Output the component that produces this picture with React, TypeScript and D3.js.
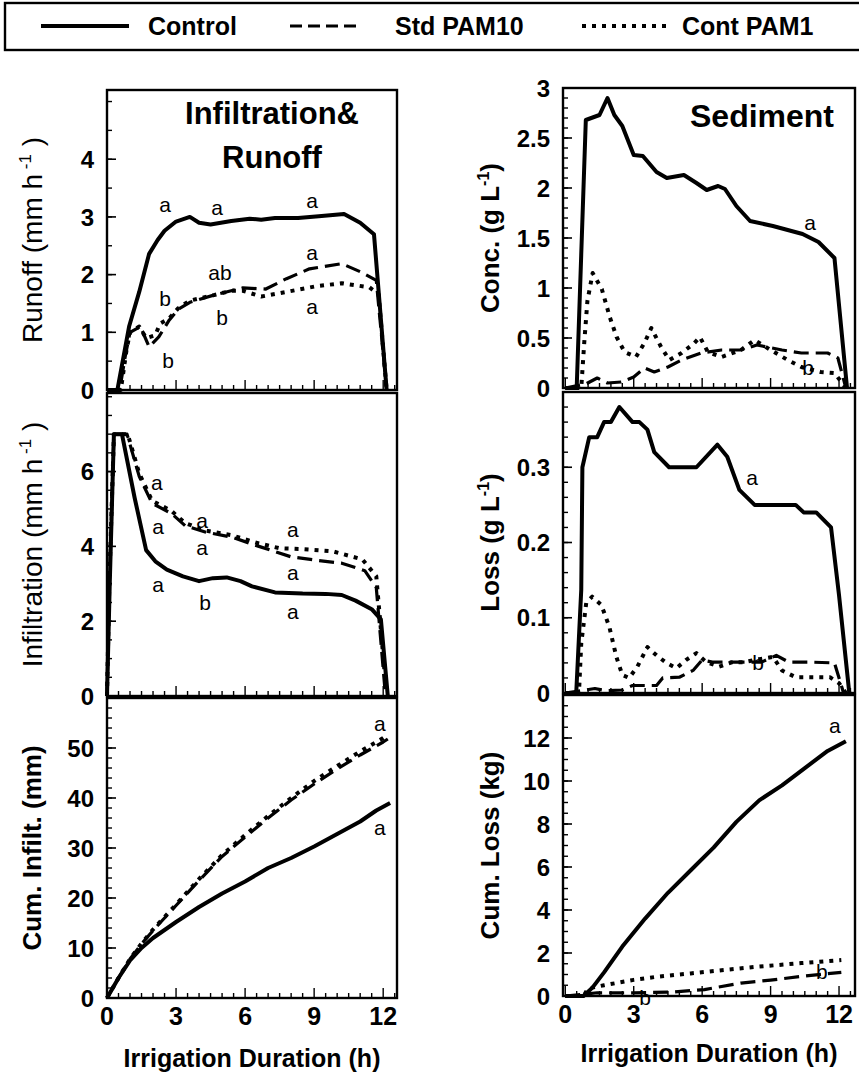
import React from 'react';
import * as d3 from 'd3';

type Pt = [number, number];
type Note = [string, number, number];

// ---- hours vs. value ----
const runoffControl: Pt[] = [[0, 0], [0.45, 0], [0.96, 1.1], [1.4, 1.7], [1.83, 2.36], [2.2, 2.6], [2.5, 2.76], [3.0, 2.92], [3.6, 3.0], [4.0, 2.9], [4.5, 2.87], [5.4, 2.93], [6.2, 2.97], [6.7, 2.95], [7.3, 2.98], [8.3, 2.98], [9.2, 3.01], [10.3, 3.05], [11.0, 2.9], [11.6, 2.7], [12.15, 0]];
const runoffStd: Pt[] = [[0, 0], [0.55, 0], [0.8, 0.6], [1.0, 1.0], [1.45, 1.1], [1.83, 0.75], [2.25, 0.92], [2.7, 1.21], [3.1, 1.4], [3.6, 1.52], [4.6, 1.64], [5.4, 1.72], [5.9, 1.77], [6.9, 1.75], [7.8, 1.93], [8.8, 2.1], [10.2, 2.19], [11.0, 2.05], [11.7, 1.9], [12.15, 0]];
const runoffCont: Pt[] = [[0, 0], [0.6, 0], [0.85, 0.7], [1.0, 1.0], [1.4, 1.1], [1.7, 0.9], [2.1, 0.95], [2.3, 1.15], [2.7, 1.24], [3.1, 1.42], [3.6, 1.55], [4.6, 1.64], [5.4, 1.72], [5.9, 1.72], [6.7, 1.62], [7.8, 1.7], [9.1, 1.8], [10.2, 1.85], [11.4, 1.78], [11.8, 1.66], [12.15, 0]];

const infilControl: Pt[] = [[0, 0], [0.12, 3.0], [0.3, 7.0], [0.65, 7.0], [1.2, 5.3], [1.7, 3.9], [2.1, 3.6], [2.6, 3.38], [3.3, 3.2], [4.0, 3.07], [4.6, 3.15], [5.2, 3.17], [5.8, 3.07], [6.3, 2.93], [7.3, 2.77], [8.5, 2.74], [9.5, 2.73], [10.2, 2.7], [10.8, 2.55], [11.5, 2.32], [11.9, 2.05], [12.2, 0]];
const infilStd: Pt[] = [[0, 0], [0.1, 3.0], [0.3, 7.0], [0.87, 7.0], [1.4, 5.87], [1.96, 5.15], [2.8, 4.88], [3.4, 4.55], [4.3, 4.38], [5.4, 4.25], [6.6, 4.0], [8.0, 3.72], [9.2, 3.62], [10.2, 3.55], [11.2, 3.35], [11.7, 2.9], [12.1, 0]];
const infilCont: Pt[] = [[0, 0], [0.1, 3.0], [0.3, 7.0], [0.9, 7.0], [1.4, 5.95], [1.96, 5.22], [2.8, 4.95], [3.4, 4.62], [4.3, 4.42], [5.4, 4.3], [6.6, 4.08], [7.5, 3.95], [8.4, 3.93], [9.8, 3.87], [11.1, 3.65], [11.7, 3.2], [12.15, 0]];

const cumInfilControl: Pt[] = [[0, 0], [0.5, 4], [1, 7.5], [1.5, 10], [2, 12], [3, 15.2], [4, 18.2], [5, 20.9], [6, 23.3], [7, 26], [8, 28], [9, 30.3], [10, 32.8], [11, 35.3], [11.7, 37.5], [12.3, 39]];
const cumInfilStd: Pt[] = [[0, 0], [0.5, 4], [1, 7.8], [1.5, 10.8], [2, 13.5], [3, 18.5], [4, 23.5], [5, 28.3], [6, 32.2], [7, 36], [8, 39.6], [9, 42.8], [10, 45.8], [11, 48.6], [12, 51.2], [12.2, 51.8]];
const cumInfilCont: Pt[] = [[0, 0], [0.5, 4], [1, 7.8], [1.5, 10.9], [2, 13.7], [3, 18.7], [4, 23.8], [5, 28.6], [6, 32.6], [7, 36.4], [8, 40], [9, 43.4], [10, 46.4], [11, 49.3], [12, 52], [12.2, 52.6]];

const concControl: Pt[] = [[0, 0], [0.5, 0], [0.9, 2.68], [1.5, 2.73], [1.85, 2.9], [2.15, 2.73], [2.5, 2.62], [3.0, 2.33], [3.4, 2.32], [4.0, 2.16], [4.45, 2.1], [5.2, 2.13], [5.75, 2.05], [6.2, 1.98], [6.7, 2.02], [7.0, 1.99], [7.5, 1.82], [8.1, 1.67], [9.1, 1.62], [10.4, 1.54], [11.1, 1.46], [11.8, 1.3], [12.35, 0]];
const concStd: Pt[] = [[0, 0], [0.9, 0.04], [1.4, 0.1], [1.85, 0.05], [2.45, 0.06], [3.0, 0.11], [3.47, 0.2], [3.9, 0.16], [4.5, 0.21], [5.1, 0.28], [5.95, 0.35], [6.85, 0.38], [7.7, 0.38], [8.4, 0.43], [9.5, 0.38], [10.35, 0.35], [11.5, 0.35], [11.95, 0.3], [12.3, 0]];
const concCont: Pt[] = [[0, 0], [0.7, 0], [0.83, 0.45], [0.97, 0.87], [1.2, 1.15], [1.6, 0.99], [1.95, 0.71], [2.25, 0.51], [2.6, 0.36], [3.1, 0.31], [3.47, 0.45], [3.77, 0.6], [4.2, 0.41], [4.56, 0.28], [5.1, 0.35], [5.66, 0.45], [5.9, 0.51], [6.25, 0.36], [6.85, 0.31], [7.7, 0.38], [8.3, 0.48], [9.0, 0.38], [9.75, 0.28], [10.35, 0.21], [11.2, 0.16], [11.8, 0.15], [12.3, 0]];

const lossControl: Pt[] = [[0, 0], [0.48, 0], [0.7, 0.137], [0.75, 0.3], [1.05, 0.34], [1.4, 0.34], [1.7, 0.36], [2.0, 0.36], [2.37, 0.38], [2.95, 0.36], [3.25, 0.36], [3.6, 0.35], [3.9, 0.32], [4.55, 0.3], [5.75, 0.3], [6.67, 0.33], [7.1, 0.314], [7.63, 0.27], [8.3, 0.25], [10.1, 0.25], [10.45, 0.24], [11.0, 0.24], [11.65, 0.22], [12.0, 0.13], [12.45, 0]];
const lossStd: Pt[] = [[0, 0], [0.9, 0.004], [1.3, 0.006], [1.8, 0.003], [2.5, 0.004], [2.95, 0.01], [4.0, 0.01], [4.27, 0.02], [5.0, 0.021], [5.6, 0.03], [6.0, 0.044], [6.45, 0.041], [7.2, 0.041], [8.6, 0.041], [9.25, 0.05], [9.8, 0.041], [10.8, 0.041], [11.8, 0.04], [12.2, 0]];
const lossCont: Pt[] = [[0, 0], [0.6, 0], [0.7, 0.066], [0.92, 0.12], [1.18, 0.128], [1.58, 0.117], [1.93, 0.088], [2.24, 0.048], [2.5, 0.024], [2.8, 0.02], [3.16, 0.035], [3.6, 0.061], [4.0, 0.05], [4.43, 0.04], [4.87, 0.033], [5.3, 0.044], [5.75, 0.053], [6.18, 0.041], [6.75, 0.035], [7.33, 0.041], [7.85, 0.041], [8.5, 0.045], [9.1, 0.048], [9.5, 0.03], [10.1, 0.021], [11.6, 0.021], [12.0, 0.013], [12.3, 0]];

const cumLossControl: Pt[] = [[0, 0], [0.8, 0], [1.2, 0.4], [1.7, 1.1], [2.5, 2.3], [3.5, 3.6], [4.5, 4.8], [5.5, 5.85], [6.5, 6.9], [7.5, 8.1], [8.5, 9.1], [9.5, 9.8], [10.5, 10.6], [11.5, 11.4], [12.3, 11.85]];
const cumLossStd: Pt[] = [[0, 0], [1.4, 0.15], [3, 0.15], [4.65, 0.18], [6.1, 0.3], [7.7, 0.6], [9.0, 0.74], [10.5, 0.93], [12.1, 1.1]];
const cumLossCont: Pt[] = [[0, 0], [0.8, 0], [1.0, 0.35], [1.7, 0.5], [3, 0.75], [3.9, 0.88], [5.5, 1.05], [6.85, 1.2], [8.5, 1.37], [10.35, 1.53], [11.0, 1.58], [12.1, 1.67]];

// mean separation letters: [text, hour, value]
const runoffNotes: Note[] = [['a', 2.52, 3.21], ['a', 4.78, 3.17], ['a', 8.91, 3.29], ['a', 8.91, 2.39], ['ab', 4.91, 2.03], ['b', 2.52, 1.59], ['b', 5.0, 1.25], ['a', 8.91, 1.44], ['b', 2.65, 0.52]];
const infilNotes: Note[] = [['a', 2.17, 5.72], ['a', 2.22, 4.52], ['a', 4.13, 4.7], ['a', 4.13, 3.96], ['a', 8.08, 4.44], ['a', 8.08, 3.29], ['a', 2.22, 2.97], ['b', 4.26, 2.51], ['a', 8.08, 2.25]];
const cumInfilNotes: Note[] = [['a', 11.86, 55], ['a', 11.86, 34.2]];
const concNotes: Note[] = [['a', 10.73, 1.66], ['b', 10.64, 0.21]];
const lossNotes: Note[] = [['a', 8.19, 0.286], ['b', 8.45, 0.041]];
const cumLossNotes: Note[] = [['a', 11.82, 12.6], ['b', 11.25, 1.12], ['b', 3.5, -0.05]];

const runoffTicks = [0, 1, 2, 3, 4];
const infilTicks = [0, 2, 4, 6];
const cumInfilTicks = [0, 10, 20, 30, 40, 50];
const concTicks = [0, 0.5, 1, 1.5, 2, 2.5, 3];
const lossTicks = [0, 0.1, 0.2, 0.3];
const cumLossTicks = [0, 2, 4, 6, 8, 10, 12];
const hourTicks = [0, 3, 6, 9, 12];

const legendNames = ['Control', 'Std PAM10', 'Cont PAM1'];

const FONT = '"Liberation Sans", Arial, Helvetica, sans-serif';
const styles = [
  { width: 4, dash: undefined as string | undefined },
  { width: 3.2, dash: '15 7' },
  { width: 4, dash: '4 6' },
];

type PanelProps = {
  x: d3.ScaleLinear<number, number>;
  top: number;
  bottom: number;
  yMax: number;
  ticks: number[];
  minorStep: number;
  series: Pt[][];
  notes: Note[];
  labelRight: number;
  title: React.ReactNode;
  titleX: number;
  titleBold: boolean;
  showHours: boolean;
};

function Panel(p: PanelProps) {
  const [x0, x1] = p.x.range();
  const y = d3.scaleLinear().domain([0, p.yMax]).range([p.bottom, p.top]);
  const line = d3.line<Pt>().x((d) => p.x(d[0])).y((d) => y(d[1]));
  const minors = d3.range(0, p.yMax + 1e-9, p.minorStep);
  const hourMinor = d3.range(0, p.x.domain()[1], 0.5);
  const midY = (p.top + p.bottom) / 2;
  return (
    <g>
      {minors.map((v, i) => (
        <line key={'ym' + i} x1={x0} x2={x0 + 5} y1={y(v)} y2={y(v)} stroke="#000" strokeWidth={1.4} />
      ))}
      {p.ticks.map((v) => (
        <line key={'yt' + v} x1={x0} x2={x0 + 9} y1={y(v)} y2={y(v)} stroke="#000" strokeWidth={1.6} />
      ))}
      {hourMinor.map((h, i) => (
        <line key={'xm' + i} x1={p.x(h)} x2={p.x(h)} y1={p.bottom} y2={p.bottom - (h % 3 === 0 ? 10 : 5)} stroke="#000" strokeWidth={1.4} />
      ))}
      {p.series.map((s, i) => (
        <path key={'s' + i} d={line(s) || ''} fill="none" stroke="#000" strokeWidth={styles[i].width}
          strokeDasharray={styles[i].dash} strokeLinejoin="round" />
      ))}
      <rect x={x0} y={p.top} width={x1 - x0} height={p.bottom - p.top} fill="none" stroke="#000" strokeWidth={2.4} />
      {p.ticks.map((v) => (
        <text key={'yl' + v} x={p.labelRight} y={y(v)} dy="0.36em" textAnchor="end" fontSize={24} fontWeight="bold">
          {String(v)}
        </text>
      ))}
      {p.notes.map((n, i) => (
        <text key={'n' + i} x={p.x(n[1])} y={y(n[2])} dy="0.36em" textAnchor="middle" fontSize={21}>
          {n[0]}
        </text>
      ))}
      <text transform={`translate(${p.titleX},${midY}) rotate(-90)`} textAnchor="middle" dy="0.36em"
        fontSize={p.titleBold ? 26 : 28} fontWeight={p.titleBold ? 'bold' : 'normal'}>
        {p.title}
      </text>
      {p.showHours && hourTicks.map((h) => (
        <text key={'xl' + h} x={p.x(h)} y={p.bottom + 18} dy="0.36em" textAnchor="middle" fontSize={25} fontWeight="bold">
          {h}
        </text>
      ))}
    </g>
  );
}

function perHour(unit: string) {
  return (
    <>
      {unit} (mm  h<tspan dy={-11} fontSize={17}> -1</tspan><tspan dy={11}> )</tspan>
    </>
  );
}

function perLitre(unit: string) {
  return (
    <>
      {unit} (g L<tspan dy={-10} fontSize={16}>-1</tspan><tspan dy={10}>)</tspan>
    </>
  );
}

export default function App() {
  const xL = d3.scaleLinear().domain([0, 12.6]).range([107, 397]);
  const xR = d3.scaleLinear().domain([-0.1, 12.7]).range([563, 855]);
  const legendX = [[41, 129, 148], [290, 362, 395], [582, 668, 682]];
  return (
    <svg width={859} height={1080} style={{ position: 'absolute', left: 0, top: 0, background: '#fff' }} fontFamily={FONT}>
      <rect x={0} y={0} width={859} height={1080} fill="#fff" />
      <rect x={5} y={3} width={880} height={47} fill="none" stroke="#000" strokeWidth={2.4} />
      {legendNames.map((name, i) => (
        <g key={name}>
          <line x1={legendX[i][0]} x2={legendX[i][1]} y1={26} y2={26} stroke="#000" strokeWidth={styles[i].width}
            strokeDasharray={i === 1 ? '12 6' : styles[i].dash} />
          <text x={legendX[i][2]} y={26} dy="0.36em" fontSize={25} fontWeight="bold">{name}</text>
        </g>
      ))}

      <Panel x={xL} top={90} bottom={390} yMax={5.2} ticks={runoffTicks} minorStep={0.5}
        series={[runoffControl, runoffStd, runoffCont]} notes={runoffNotes} labelRight={94}
        title={perHour('Runoff')} titleX={32} titleBold={false} showHours={false} />
      <Panel x={xL} top={393} bottom={696} yMax={8.1} ticks={infilTicks} minorStep={0.5}
        series={[infilControl, infilStd, infilCont]} notes={infilNotes} labelRight={94}
        title={perHour('Infiltration')} titleX={32} titleBold={false} showHours={false} />
      <Panel x={xL} top={698} bottom={998} yMax={60} ticks={cumInfilTicks} minorStep={2}
        series={[cumInfilControl, cumInfilStd, cumInfilCont]} notes={cumInfilNotes} labelRight={94}
        title="Cum. Infilt. (mm)" titleX={32} titleBold={true} showHours={true} />

      <Panel x={xR} top={88} bottom={388} yMax={3} ticks={concTicks} minorStep={0.1}
        series={[concControl, concStd, concCont]} notes={concNotes} labelRight={550}
        title={perLitre('Conc.')} titleX={490} titleBold={true} showHours={false} />
      <Panel x={xR} top={392} bottom={693} yMax={0.4} ticks={lossTicks} minorStep={0.02}
        series={[lossControl, lossStd, lossCont]} notes={lossNotes} labelRight={550}
        title={perLitre('Loss')} titleX={490} titleBold={true} showHours={false} />
      <Panel x={xR} top={695} bottom={996} yMax={14} ticks={cumLossTicks} minorStep={0.5}
        series={[cumLossControl, cumLossStd, cumLossCont]} notes={cumLossNotes} labelRight={550}
        title="Cum. Loss (kg)" titleX={490} titleBold={true} showHours={true} />

      <text x={(107 + 397) / 2} y={1058} dy="0.36em" textAnchor="middle" fontSize={25} fontWeight="bold">
        Irrigation Duration (h)
      </text>
      <text x={(563 + 855) / 2} y={1053} dy="0.36em" textAnchor="middle" fontSize={25} fontWeight="bold">
        Irrigation Duration (h)
      </text>
      <text x={272} y={113} dy="0.36em" textAnchor="middle" fontSize={31} fontWeight="bold">Infiltration&amp;</text>
      <text x={272} y={157} dy="0.36em" textAnchor="middle" fontSize={31} fontWeight="bold">Runoff</text>
      <text x={762} y={115} dy="0.36em" textAnchor="middle" fontSize={32} fontWeight="bold">Sediment</text>
    </svg>
  );
}
